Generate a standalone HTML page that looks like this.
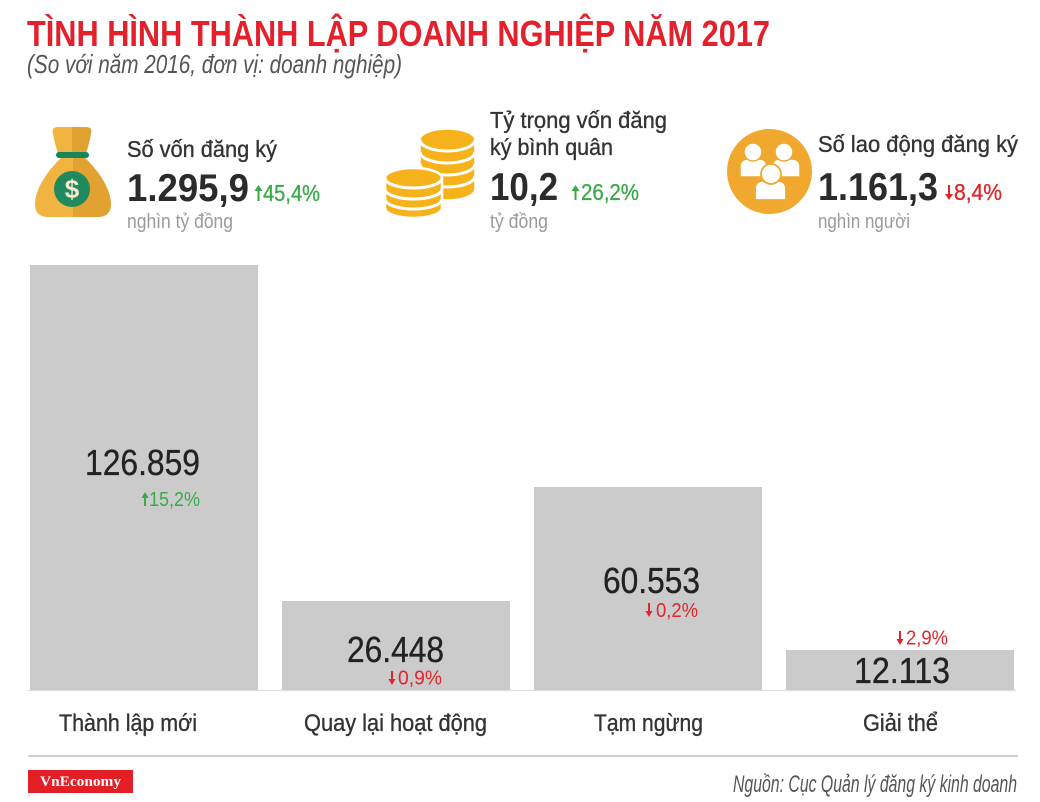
<!DOCTYPE html>
<html>
<head>
<meta charset="utf-8">
<style>
  html,body{margin:0;padding:0;background:#fff;}
  svg{display:block;}
  text{font-family:"Liberation Sans","DejaVu Sans",sans-serif;}
  .r{stroke-width:0.35;}
</style>
</head>
<body>
<svg width="1040" height="802" viewBox="0 0 1040 802" xmlns="http://www.w3.org/2000/svg">
  <rect x="0" y="0" width="1040" height="802" fill="#ffffff"/>

  <!-- Title -->
  <text x="27" y="46" font-size="36" font-weight="bold" fill="#e3202c" textLength="743" lengthAdjust="spacingAndGlyphs">TÌNH HÌNH THÀNH LẬP DOANH NGHIỆP NĂM 2017</text>
  <text x="27" y="73" font-size="26" font-style="italic" fill="#555555" textLength="375" lengthAdjust="spacingAndGlyphs">(So với năm 2016, đơn vị: doanh nghiệp)</text>

  <!-- Money bag icon -->
  <path d="M72,127 L58,127 Q51,127 53,134 Q55,145 58,153 L72,153 Z" fill="#f2b440"/>
  <path d="M72,127 L86,127 Q93,127 91,134 Q89,145 86,153 L72,153 Z" fill="#e2a232"/>
  <path d="M61,158 C46,172 35,190 35,204 C35,213 40,217 48,217 L73,217 L73,158 Z" fill="#f2b440"/>
  <path d="M85,158 C100,172 111,190 111,204 C111,213 106,217 98,217 L73,217 L73,158 Z" fill="#e2a232"/>
  <rect x="56" y="152" width="33" height="6" rx="3" fill="#17845a"/>
  <circle cx="72" cy="189" r="18" fill="#1e8a5e"/>
  <text x="72" y="198" font-size="26" font-weight="bold" fill="#f6ead0" text-anchor="middle">$</text>

  <!-- Stat 1 -->
  <text class="r" stroke="#333333" x="127" y="157" font-size="23" fill="#333333" textLength="150" lengthAdjust="spacingAndGlyphs">Số vốn đăng ký</text>
  <text x="127" y="201" font-size="39" font-weight="bold" fill="#2b2b2b" textLength="122" lengthAdjust="spacingAndGlyphs">1.295,9</text>
  <line x1="258.5" y1="190" x2="258.5" y2="201" stroke="#3aaa48" stroke-width="2"/>
  <polygon points="254.5,191 262.5,191 258.5,185" fill="#3aaa48"/>
  <text class="r" stroke="#3aaa48" x="263" y="201" font-size="23" fill="#3aaa48" textLength="57" lengthAdjust="spacingAndGlyphs">45,4%</text>
  <text x="127" y="228" font-size="20" fill="#9a9a9a" textLength="106" lengthAdjust="spacingAndGlyphs">nghìn tỷ đồng</text>

  <!-- Coins icon: back stack -->
  <g>
    <path d="M420,140 A27.5,11 0 0 1 475,140 L475,189 A27.5,11 0 0 1 420,189 Z" fill="#f6b21b" stroke="#ffffff" stroke-width="1.5"/>
    <path d="M420,140 A27.5,11 0 0 0 475,140" fill="none" stroke="#ffffff" stroke-width="3"/>
    <path d="M420,152 A27.5,11 0 0 0 475,152" fill="none" stroke="#ffffff" stroke-width="3"/>
    <path d="M420,164 A27.5,11 0 0 0 475,164" fill="none" stroke="#ffffff" stroke-width="3"/>
    <path d="M420,176 A27.5,11 0 0 0 475,176" fill="none" stroke="#ffffff" stroke-width="3"/>
  </g>
  <!-- front stack -->
  <g>
    <path d="M385,178 A28.5,10 0 0 1 442,178 L442,208 A28.5,10 0 0 1 385,208 Z" fill="#f6b21b" stroke="#ffffff" stroke-width="2.5"/>
    <path d="M385,178 A28.5,10 0 0 0 442,178" fill="none" stroke="#ffffff" stroke-width="3"/>
    <path d="M385,189 A28.5,10 0 0 0 442,189" fill="none" stroke="#ffffff" stroke-width="3"/>
    <path d="M385,199 A28.5,10 0 0 0 442,199" fill="none" stroke="#ffffff" stroke-width="3"/>
  </g>

  <!-- Stat 2 -->
  <text class="r" stroke="#333333" x="490" y="128" font-size="23" fill="#333333" textLength="177" lengthAdjust="spacingAndGlyphs">Tỷ trọng vốn đăng</text>
  <text class="r" stroke="#333333" x="490" y="155" font-size="23" fill="#333333" textLength="123" lengthAdjust="spacingAndGlyphs">ký bình quân</text>
  <text x="490" y="200" font-size="39" font-weight="bold" fill="#2b2b2b" textLength="68" lengthAdjust="spacingAndGlyphs">10,2</text>
  <line x1="575.5" y1="190" x2="575.5" y2="200" stroke="#3aaa48" stroke-width="2"/>
  <polygon points="571.5,191 579.5,191 575.5,185" fill="#3aaa48"/>
  <text class="r" stroke="#3aaa48" x="581" y="200" font-size="23" fill="#3aaa48" textLength="58" lengthAdjust="spacingAndGlyphs">26,2%</text>
  <text x="490" y="228" font-size="20" fill="#9a9a9a" textLength="58" lengthAdjust="spacingAndGlyphs">tỷ đồng</text>

  <!-- People icon -->
  <circle cx="769.5" cy="171.5" r="42.5" fill="#f0a82e"/>
  <path d="M740,177 L740,167 Q740,159 748,159 L759,159 Q767,159 767,167 L767,177 Z" fill="#ffffff" stroke="#f0a82e" stroke-width="1.5"/>
  <circle cx="753" cy="152" r="9" fill="#ffffff" stroke="#f0a82e" stroke-width="1.5"/>
  <path d="M772,177 L772,167 Q772,159 780,159 L792,159 Q800,159 800,167 L800,177 Z" fill="#ffffff" stroke="#f0a82e" stroke-width="1.5"/>
  <circle cx="784" cy="152" r="9" fill="#ffffff" stroke="#f0a82e" stroke-width="1.5"/>
  <path d="M755,200 L755,189 Q755,181 763,181 L778,181 Q786,181 786,189 L786,200 Z" fill="#ffffff" stroke="#f0a82e" stroke-width="1.8"/>
  <circle cx="771" cy="174" r="10" fill="#ffffff" stroke="#f0a82e" stroke-width="1.8"/>

  <!-- Stat 3 -->
  <text class="r" stroke="#333333" x="818" y="152" font-size="23" fill="#333333" textLength="200" lengthAdjust="spacingAndGlyphs">Số lao động đăng ký</text>
  <text x="818" y="200" font-size="39" font-weight="bold" fill="#2b2b2b" textLength="120" lengthAdjust="spacingAndGlyphs">1.161,3</text>
  <line x1="949" y1="185" x2="949" y2="195" stroke="#e0262b" stroke-width="2"/>
  <polygon points="945,194 953,194 949,200" fill="#e0262b"/>
  <text class="r" stroke="#e0262b" x="954" y="200" font-size="23" fill="#e0262b" textLength="48" lengthAdjust="spacingAndGlyphs">8,4%</text>
  <text x="818" y="228" font-size="20" fill="#9a9a9a" textLength="92" lengthAdjust="spacingAndGlyphs">nghìn người</text>

  <!-- Bars -->
  <rect x="30" y="265" width="228" height="425" fill="#cccbcc"/>
  <rect x="282" y="601" width="228" height="89" fill="#cccbcc"/>
  <rect x="534" y="487" width="228" height="203" fill="#cccbcc"/>
  <rect x="786" y="650" width="228" height="40" fill="#cccbcc"/>
  <line x1="27" y1="690.5" x2="1016" y2="690.5" stroke="#dddddd" stroke-width="1"/>

  <!-- Bar values -->
  <text class="r" stroke="#222222" x="85" y="475" font-size="36" fill="#222222" textLength="115" lengthAdjust="spacingAndGlyphs">126.859</text>
  <line x1="145" y1="497" x2="145" y2="506" stroke="#3aaa48" stroke-width="2"/>
  <polygon points="141.5,498 148.5,498 145,492" fill="#3aaa48"/>
  <text x="149" y="506" font-size="20" fill="#3aaa48" textLength="51" lengthAdjust="spacingAndGlyphs">15,2%</text>

  <text class="r" stroke="#222222" x="347" y="662" font-size="36" fill="#222222" textLength="97" lengthAdjust="spacingAndGlyphs">26.448</text>
  <line x1="392" y1="671" x2="392" y2="680" stroke="#e0262b" stroke-width="2"/>
  <polygon points="388.5,679 395.5,679 392,685" fill="#e0262b"/>
  <text x="398" y="684.5" font-size="20" fill="#e0262b" textLength="44" lengthAdjust="spacingAndGlyphs">0,9%</text>

  <text class="r" stroke="#222222" x="603" y="593" font-size="36" fill="#222222" textLength="97" lengthAdjust="spacingAndGlyphs">60.553</text>
  <line x1="649" y1="603" x2="649" y2="612" stroke="#e0262b" stroke-width="2"/>
  <polygon points="645.5,611 652.5,611 649,617" fill="#e0262b"/>
  <text x="656" y="617" font-size="20" fill="#e0262b" textLength="42" lengthAdjust="spacingAndGlyphs">0,2%</text>

  <line x1="900" y1="631" x2="900" y2="640" stroke="#e0262b" stroke-width="2"/>
  <polygon points="896.5,639 903.5,639 900,645" fill="#e0262b"/>
  <text x="906" y="644.5" font-size="20" fill="#e0262b" textLength="42" lengthAdjust="spacingAndGlyphs">2,9%</text>
  <text class="r" stroke="#222222" x="854" y="683" font-size="36" fill="#222222" textLength="96" lengthAdjust="spacingAndGlyphs">12.113</text>

  <!-- Category labels -->
  <text class="r" stroke="#333333" x="59" y="731" font-size="24" fill="#333333" textLength="138" lengthAdjust="spacingAndGlyphs">Thành lập mới</text>
  <text class="r" stroke="#333333" x="304" y="731" font-size="24" fill="#333333" textLength="183" lengthAdjust="spacingAndGlyphs">Quay lại hoạt động</text>
  <text class="r" stroke="#333333" x="594" y="731" font-size="24" fill="#333333" textLength="109" lengthAdjust="spacingAndGlyphs">Tạm ngừng</text>
  <text class="r" stroke="#333333" x="863" y="731" font-size="24" fill="#333333" textLength="75" lengthAdjust="spacingAndGlyphs">Giải thể</text>

  <!-- Footer -->
  <rect x="28" y="755" width="990" height="2" fill="#d0d0d0"/>
  <rect x="28" y="770" width="105" height="23" fill="#e31e24"/>
  <text x="40" y="786" font-size="15" font-weight="bold" fill="#ffffff" style="font-family:'Liberation Serif',serif;" textLength="81" lengthAdjust="spacingAndGlyphs">VnEconomy</text>
  <text x="733" y="792" font-size="24" font-style="italic" fill="#555555" textLength="284" lengthAdjust="spacingAndGlyphs">Nguồn: Cục Quản lý đăng ký kinh doanh</text>
</svg>
</body>
</html>
